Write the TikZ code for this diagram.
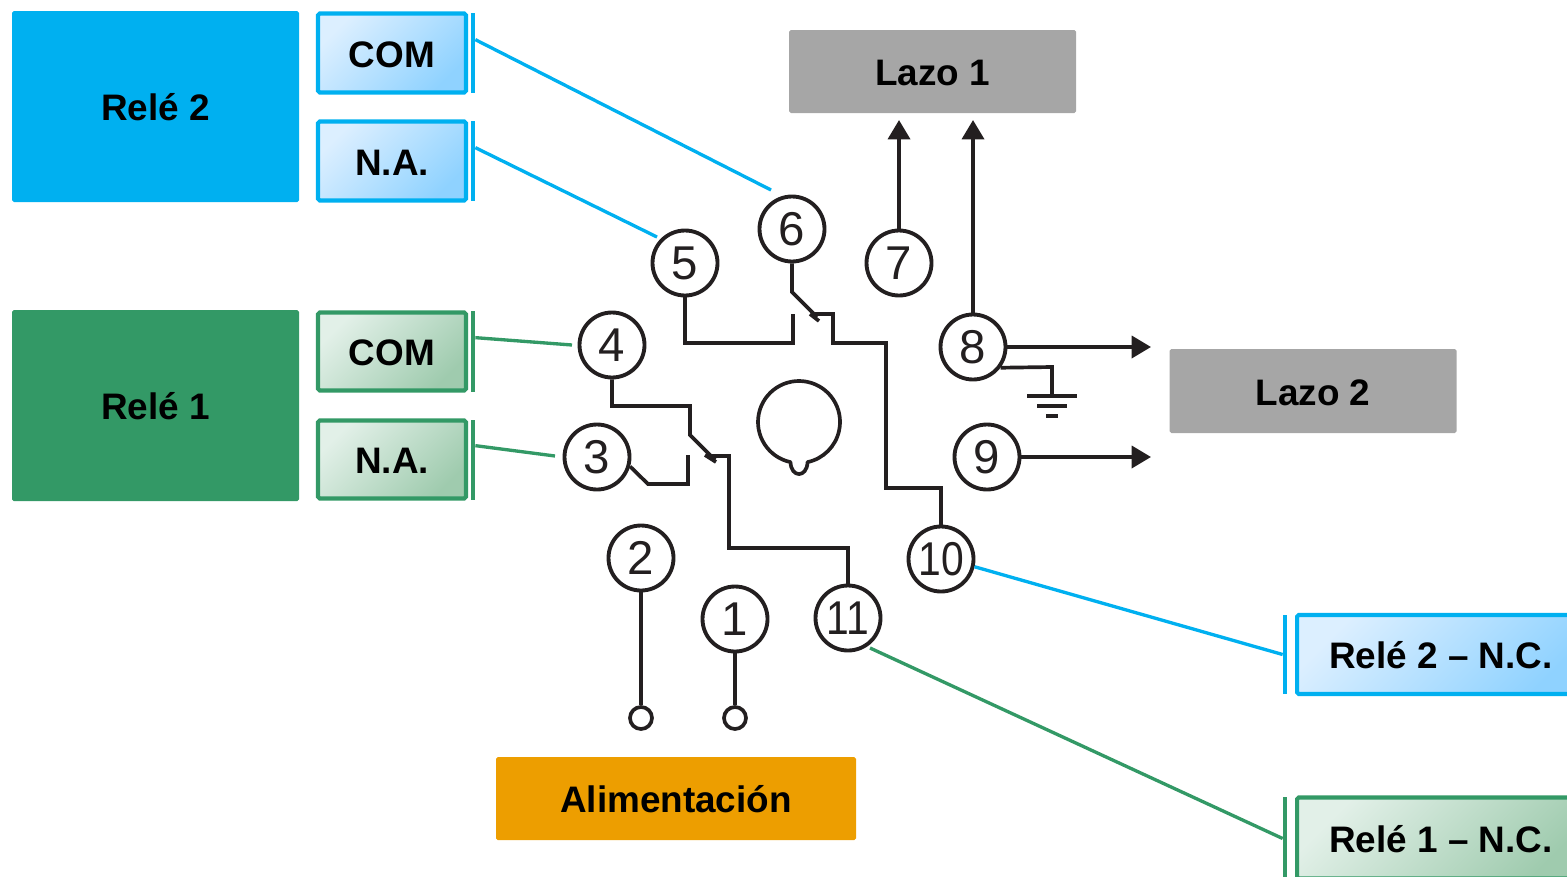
\documentclass[tikz,border=0pt]{standalone}
\usepackage{fontspec}
\setmainfont{Liberation Sans}
\newfontfamily\pinfontnarrow[FakeStretch=0.86]{Liberation Sans}
\usetikzlibrary{calc,arrows.meta}

\definecolor{relblue}{HTML}{00B0F0}
\definecolor{relgreen}{HTML}{339966}
\definecolor{lazogray}{HTML}{A6A6A6}
\definecolor{alimorange}{HTML}{ED9E00}
\definecolor{wirecol}{HTML}{231F20}
\definecolor{bluelight}{HTML}{DCEFFF}
\definecolor{bluedeep}{HTML}{8FD2FF}
\definecolor{greenlight}{HTML}{E2F0E8}
\definecolor{greendeep}{HTML}{9FCBAE}
\def\pxu{0.02cm}

\tikzset{
  label/.style={font=\fontsize{21}{24}\selectfont\bfseries, text=black, align=center, inner sep=0pt,
    text height=16.4pt, text depth=0pt},
  solidbox/.style={label, rectangle, rounded corners=1pt, fill=#1},
  bluetag/.style={label, draw=relblue, line width=2.3pt, rounded corners=1pt, shade, shading=axis,
    top color=bluelight, bottom color=bluedeep, shading angle=45},
  greentag/.style={label, draw=relgreen, line width=2.3pt, rounded corners=1pt, shade, shading=axis,
    top color=greenlight, bottom color=greendeep, shading angle=45},
  pin/.style={draw=wirecol, line width=2.2pt, circle, fill=white, minimum size=65*\pxu, inner sep=0pt,
    text=wirecol, font=\fontsize{27}{28}\selectfont},
  pinwide/.style={pin, font=\pinfontnarrow\fontsize{27}{28}\selectfont},
  term/.style={draw=wirecol, line width=2.1pt, circle, fill=white, minimum size=22*\pxu, inner sep=0pt},
  wire/.style={draw=wirecol, line width=2.1pt, line join=miter},
  arrowwire/.style={wire, -{Triangle[length=11pt,width=12.5pt]}},
  blueline/.style={draw=relblue, line width=1.9pt},
  greenline/.style={draw=relgreen, line width=1.9pt},
}

\begin{document}
\begin{tikzpicture}[x=0.02cm, y=-0.02cm]
\useasboundingbox (0,0) rectangle (1567,876);

% Relay blocks
\node[solidbox=relblue, minimum width=287*\pxu, minimum height=191*\pxu] (reletwo) at (155.5,106.5) {Relé 2};
\node[solidbox=relgreen, minimum width=287*\pxu, minimum height=191*\pxu] (releone) at (155.5,405.5) {Relé 1};

% Contact tags
\node[bluetag, minimum width=148*\pxu, minimum height=79*\pxu] (comtwo) at (392,53) {COM};
\node[bluetag, minimum width=148*\pxu, minimum height=79*\pxu] (natwo) at (392,161) {N.A.};
\node[greentag, minimum width=148*\pxu, minimum height=78*\pxu] (comone) at (392,351.5) {COM};
\node[greentag, minimum width=148*\pxu, minimum height=78*\pxu] (naone) at (392,459.5) {N.A.};
\node[bluetag, minimum width=288*\pxu, minimum height=79*\pxu] (nctwo) at (1441,654.5) {Relé 2 – N.C.};
\node[greentag, minimum width=288*\pxu, minimum height=81*\pxu] (ncone) at (1441,838) {Relé 1 – N.C.};

% Tag brackets
\node[fill=relblue, inner sep=0pt, minimum width=4*\pxu, minimum height=80*\pxu] (comtwobar) at (473,53) {};
\node[fill=relblue, inner sep=0pt, minimum width=4*\pxu, minimum height=80*\pxu] (natwobar) at (473,161) {};
\node[fill=relgreen, inner sep=0pt, minimum width=4*\pxu, minimum height=81*\pxu] (comonebar) at (473,351.5) {};
\node[fill=relgreen, inner sep=0pt, minimum width=4*\pxu, minimum height=80*\pxu] (naonebar) at (473,460) {};
\node[fill=relblue, inner sep=0pt, minimum width=4*\pxu, minimum height=79*\pxu] (nctwobar) at (1285,654.5) {};
\node[fill=relgreen, inner sep=0pt, minimum width=4*\pxu, minimum height=83*\pxu] (nconebar) at (1285,838.5) {};

% Loop and supply blocks
\node[solidbox=lazogray, minimum width=287*\pxu, minimum height=83*\pxu] (lazoone) at (932.5,71.5) {Lazo 1};
\node[solidbox=lazogray, minimum width=287*\pxu, minimum height=84*\pxu] (lazotwo) at (1313,391) {Lazo 2};
\node[solidbox=alimorange, minimum width=360*\pxu, minimum height=83*\pxu] (alim) at (676,798.5) {Alimentación};

% Socket pins
\node[pin] (pinone) at (735,619) {1};
\node[pin] (pintwo) at (641,558) {2};
\node[pin] (pinthree) at (597,457) {3};
\node[pin] (pinfour) at (612,345) {4};
\node[pin] (pinfive) at (685,263) {5};
\node[pin] (pinsix) at (792,229) {6};
\node[pin] (pinseven) at (899,263) {7};
\node[pin] (pineight) at (973,347) {8};
\node[pin] (pinnine) at (987,457) {9};
\node[pinwide] (pinten) at (941,559) {10};
\node[pinwide] (pineleven) at (848,618) {11};

% Supply terminals
\node[term] (termtwo) at (641,718) {};
\node[term] (termone) at (735,718) {};
\draw[wire] (pintwo) -- (termtwo);
\draw[wire] (pinone) -- (termone);

% Upper contact
\coordinate (armtopA) at (792,292);
\coordinate (armendA) at (817,317);
\coordinate (contactA) at (793,314);
\draw[wire] (pinfive.south) -- (685,343) -- (793,343) -- (contactA);
\draw[wire] (pinsix.south) -- (armtopA) -- (armendA);
\draw[wire] (810,314) -- (819,321);
\draw[wire] (813,314) -- (833,314) -- (833,343) -- (886,343) -- (886,488) -- (941,488) -- (pinten.north);

% Lower contact
\coordinate (armtopB) at (690,435);
\coordinate (armendB) at (715,460);
\coordinate (contactB) at (688,455);
\draw[wire] (pinfour.south) -- (612,406) -- (690,406) -- (armtopB) -- (armendB);
\draw[wire] (705,455) -- (716,462);
\draw[wire] (pinthree.-16) -- (648,484) -- (688,484) -- (contactB);
\draw[wire] (710,456) -- (729,456) -- (729,548) -- (848,548) -- (pineleven.north);

% Keyway
\node[circle, minimum size=82*\pxu, inner sep=0pt, outer sep=0pt] (keyway) at (799,422) {};
\draw[wire, line join=round] (keyway.-102) arc[start angle=-102, end angle=-438, radius=41*\pxu]
  .. controls (807,478) and (791,478) .. cycle;

% Loop outputs
\coordinate (lazoonea) at (899,120);
\coordinate (lazooneb) at (973,120);
\coordinate (lazotwoa) at (1151,347);
\coordinate (lazotwob) at (1151,457);
\draw[arrowwire] (pinseven.north) -- (lazoonea);
\draw[arrowwire] (pineight.north) -- (lazooneb);
\draw[arrowwire] (pineight.east) -- (lazotwoa);
\draw[arrowwire] (pinnine.east) -- (lazotwob);

% Ground
\coordinate (gnd) at (1052,396);
\draw[wire] (pineight.-37) -- (1052,367) -- (gnd);
\draw[wire] ($(gnd)+(-25,0)$) -- ($(gnd)+(25,0)$);
\draw[wire] ($(gnd)+(-15,10)$) -- ($(gnd)+(15,10)$);
\draw[wire] ($(gnd)+(-6,20)$) -- ($(gnd)+(6,20)$);

% Tag leaders
\coordinate (sixend) at ($(pinsix)+(-21,-39)$);
\coordinate (fiveend) at ($(pinfive)+(-28,-26)$);
\coordinate (fourend) at ($(pinfour)+(-40,0)$);
\coordinate (threeend) at ($(pinthree)+(-42,-1)$);
\draw[blueline] ($(comtwobar.north east)+(0,27)$) -- (sixend);
\draw[blueline] ($(natwobar.north east)+(0,27)$) -- (fiveend);
\draw[greenline] ($(comonebar.north east)+(0,27)$) -- (fourend);
\draw[greenline] ($(naonebar.north east)+(0,26)$) -- (threeend);
\draw[blueline] (pinten.-13) -- (nctwobar.west);
\draw[greenline] ($(pineleven)+(22,30)$) -- (nconebar.west);

\end{tikzpicture}
\end{document}
